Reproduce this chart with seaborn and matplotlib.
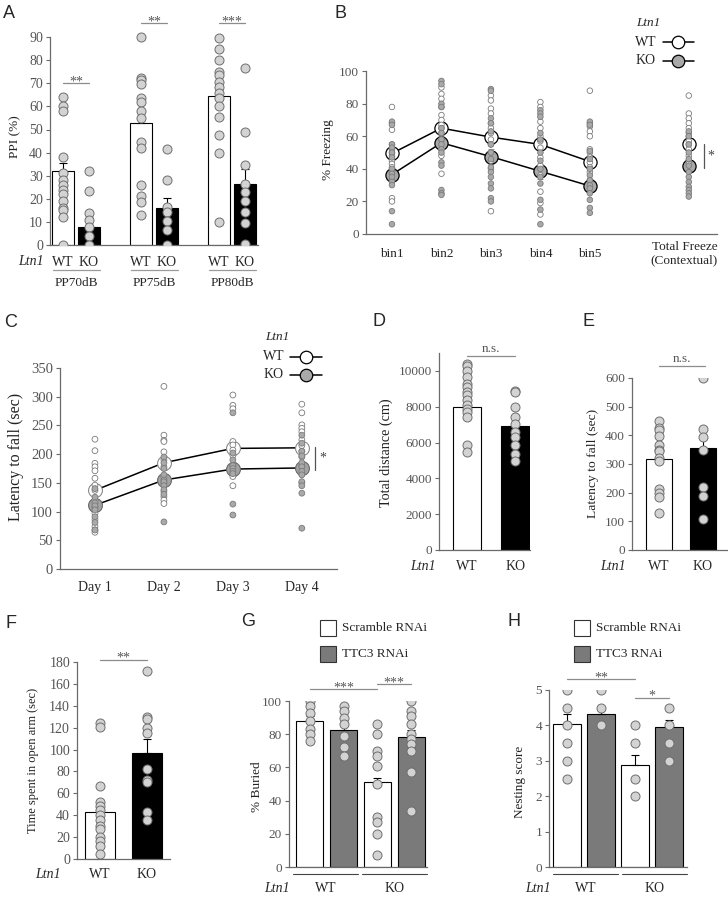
import numpy as np
import pandas as pd
import matplotlib
matplotlib.use("Agg")
import matplotlib.pyplot as plt
from matplotlib.lines import Line2D
from matplotlib.patches import Rectangle
from matplotlib.transforms import blended_transform_factory
import seaborn as sns

# ======================= DATA =======================
# --- A: PPI ---
a_groups = ["PP70dB", "PP75dB", "PP80dB"]
a_wt_mean = [32, 53, 64.5]
a_wt_sem = [3.5, 4.5, 4.5]
a_ko_mean = [8, 16, 26.5]
a_ko_sem = [3.5, 4.5, 6.5]
a_wt_70 = [64, 60, 58, 38, 31, 28, 26, 24, 22, 19, 16, 15, 12, 0]
a_ko_70 = [32, 23.5, 14, 11, 8, 4, 0]
a_wt_75 = [90, 72.5, 71.5, 69.5, 63.5, 62, 58, 55, 44.5, 42, 26, 21, 18.5, 13]
a_ko_75 = [41.5, 28, 16.5, 14.5, 10.5, 6.5, 0]
a_wt_80 = [89.5, 85, 80, 75, 73.5, 70.5, 68.5, 66, 63.5, 60, 55.5, 47.5, 40, 10]
a_ko_80 = [76.5, 49, 34.5, 26.5, 23, 19, 14.5, 9.5, 0.5]

# --- B: freezing ---
b_bins = ["bin1", "bin2", "bin3", "bin4", "bin5", "Total"]
b_wt_mean = [49.5, 65, 59.5, 55, 44.5, 55]
b_ko_mean = [36.5, 56, 47.5, 38.5, 29.5, 42]
b_wt_sem = [4, 4, 4.5, 4.5, 4, 3.5]
b_ko_sem = [4, 4, 4.5, 4.5, 4, 3.5]
b_wt_pts = {
    "bin1": [78, 68, 64, 55, 52, 50, 48, 45, 43, 41, 38, 33, 22, 20],
    "bin2": [90, 86, 83, 78, 73, 70, 67, 65, 62, 58, 52, 48, 37],
    "bin3": [85, 82, 77, 74, 68, 65, 62, 58, 55, 50, 45, 40, 14],
    "bin4": [81, 78, 69, 65, 60, 57, 53, 47, 42, 36, 26, 19, 12],
    "bin5": [88, 68, 66, 63, 60, 52, 50, 47, 44, 41, 38, 33],
    "Total": [85, 74, 71, 68, 65, 62, 60, 57, 55, 52, 48, 45, 43],
}
b_ko_pts = {
    "bin1": [69, 67, 55, 53, 50, 47, 40, 37, 35, 32, 30, 14, 6],
    "bin2": [94, 92, 80, 78, 65, 62, 58, 55, 52, 50, 44, 42, 27, 25, 24],
    "bin3": [89, 88, 71, 68, 63, 55, 50, 46, 41, 38, 35, 31, 28, 22, 20],
    "bin4": [76, 74, 72, 62, 58, 50, 45, 40, 35, 31, 21, 15, 6],
    "bin5": [69, 67, 51, 46, 40, 36, 33, 30, 28, 25, 21, 16, 13],
    "Total": [63, 60, 55, 50, 46, 42, 38, 35, 32, 29, 27, 25, 23],
}

# --- C: rotarod ---
c_days = ["Day 1", "Day 2", "Day 3", "Day 4"]
c_wt_mean = [137, 185, 210, 211]
c_ko_mean = [111, 155, 174, 176]
c_wt_sem = [10, 12, 11, 10]
c_ko_sem = [8, 9, 12, 10]
c_wt_pts = {
    "Day 1": [226, 206, 184, 178, 171, 158, 146, 137, 120, 108, 97, 86, 74, 68, 64],
    "Day 2": [318, 233, 224, 222, 204, 190, 178, 160, 150, 135, 126, 120, 114],
    "Day 3": [303, 285, 279, 222, 216, 207, 198, 180, 161, 145],
    "Day 4": [287, 272, 251, 245, 239, 225, 215, 205, 195, 180, 165, 150],
}
c_ko_pts = {
    "Day 1": [140, 125, 115, 110, 103, 91, 81, 68],
    "Day 2": [195, 185, 175, 164, 155, 152, 145, 138, 130, 82],
    "Day 3": [272, 202, 190, 180, 175, 170, 166, 113, 94],
    "Day 4": [233, 219, 205, 197, 185, 178, 170, 164, 152, 145, 132, 71],
}

# --- D: open field ---
genos = ["WT", "KO"]
d_mean = [8000, 6900]
d_sem = [350, 450]
d_wt = [10400, 10250, 10000, 9650, 9250, 9100, 8850, 8650, 8400, 8100, 7900, 7700, 7400, 5850, 5500]
d_ko = [8900, 8800, 8000, 7450, 7050, 6600, 6300, 5850, 5350, 4950]

# --- E: latency to fall ---
e_mean = [317, 355]
e_sem = [30, 45]
e_wt = [449, 425, 417, 399, 367, 350, 344, 320, 309, 212, 200, 186, 128]
e_ko = [600, 423, 394, 350, 221, 189, 107]

# --- F: elevated plus maze ---
f_mean = [42.5, 96.5]
f_sem = [9, 13.5]
f_wt = [124, 121, 67, 52, 48, 45, 40, 36, 30, 27, 20, 16, 12, 5]
f_ko = [172, 130, 128, 120, 115, 82, 72, 70, 43, 36]

# --- G / H: RNAi ---
gh_cats = ["WT Scr", "WT TTC3", "KO Scr", "KO TTC3"]
gh_rnai = ["Scramble RNAi", "TTC3 RNAi", "Scramble RNAi", "TTC3 RNAi"]
g_mean = [88, 82.5, 51.5, 78.5]
g_sem = [3, 5, 2, 4]
g_pts = {
    "WT Scr": [100, 97, 93, 88, 83, 80, 76],
    "WT TTC3": [97, 94, 90, 86, 79, 72, 67],
    "KO Scr": [86, 80, 70, 67, 61, 50, 30, 27, 20, 7],
    "KO TTC3": [100, 94, 91, 86, 80, 77, 74, 70, 57, 34],
}
h_mean = [4.05, 4.33, 2.88, 3.95]
h_sem = [0.26, 0.2, 0.29, 0.2]
h_pts = {
    "WT Scr": [5, 4.5, 4, 3.5, 3, 2.5],
    "WT TTC3": [5, 4.5, 4],
    "KO Scr": [4, 3.5, 2.5, 2],
    "KO TTC3": [4.5, 4, 3.5, 3],
}

# ======================= STYLE =======================
W, H = 728, 898
sns.set_theme(style="ticks")
plt.rcParams["font.family"] = ["Liberation Serif", "DejaVu Serif"]
plt.rcParams["axes.linewidth"] = 0.9

TICK_C = "#555555"
SPINE_C = "#6a6a6a"
PT_FACE = "#d3d3d3"
PT_EDGE = "#6e6e6e"
KO_SMALL = "#a9a9a9"
TTC_C = "#7a7a7a"
SIG_C = "#8c8c8c"
LETTER_FONT = ["Liberation Sans", "DejaVu Sans"]

fig = plt.figure(figsize=(W / 100, H / 100), dpi=100)
fig.patch.set_facecolor("white")

RECTS = {}


def add_ax(name, l, t, r, b):
    ax = fig.add_axes([l / W, 1 - b / H, (r - l) / W, (b - t) / H])
    RECTS[name] = (l, t, r, b)
    ax.set_facecolor("none")
    return ax


def ftext(px, py, s, **kw):
    kw.setdefault("ha", "center")
    kw.setdefault("va", "center")
    kw.setdefault("fontsize", 9.5)
    return fig.text(px / W, 1 - py / H, s, **kw)


def ay(name, py):
    l, t, r, b = RECTS[name]
    return (b - py) / (b - t)


def axf(name, px):
    l, t, r, b = RECTS[name]
    return (px - l) / (r - l)


def xtext(ax, name, xd, py, s, **kw):
    kw.setdefault("ha", "center")
    kw.setdefault("va", "center")
    kw.setdefault("fontsize", 9.5)
    tr = blended_transform_factory(ax.transData, ax.transAxes)
    ax.text(xd, ay(name, py), s, transform=tr, clip_on=False, **kw)


def xline(ax, name, x0, x1, py, color="#555555", lw=0.9):
    tr = blended_transform_factory(ax.transData, ax.transAxes)
    ax.plot([x0, x1], [ay(name, py)] * 2, transform=tr, color=color, lw=lw, clip_on=False)


def style(ax, name, ylab, lab_px, yticks, ybounds=None, tsize=9.5, lsize=9.5):
    sns.despine(ax=ax)
    for s in ["left", "bottom"]:
        ax.spines[s].set_color(SPINE_C)
        ax.spines[s].set_linewidth(0.9)
    ax.set_yticks(yticks)
    ax.tick_params(axis="y", colors=SPINE_C, labelcolor=TICK_C, labelsize=tsize,
                   length=3, width=0.8, pad=2)
    ax.set_xticks([])
    if ybounds is not None:
        ax.spines["left"].set_bounds(*ybounds)
    ax.set_xlabel("")
    ax.set_ylabel(ylab, fontsize=lsize, color="#222222")
    ax.yaxis.set_label_coords(axf(name, lab_px[0] + 0.45 * lsize * 1.39), ay(name, lab_px[1]))


def sig(ax, x0, x1, y, label, off, fs=10):
    ax.plot([x0, x1], [y, y], color=SIG_C, lw=0.9, clip_on=False)
    ax.annotate(label, xy=((x0 + x1) / 2, y), xytext=(0, off), textcoords="offset points",
                ha="center", va="baseline", fontsize=fs, color="#555555",
                annotation_clip=False)


def long_df(pairs, cols):
    rows = []
    for keys, vals in pairs:
        for v in vals:
            rows.append((*keys, v))
    return pd.DataFrame(rows, columns=cols)


def upper_err(ax, xs, means, sems, color="black"):
    ax.errorbar(xs, means, yerr=[np.zeros(len(sems)), sems], fmt="none",
                ecolor=color, elinewidth=0.8, capsize=3, capthick=0.8, zorder=2.5)


# ======================= PANEL A =======================
axA = add_ax("A", 50, 14, 258, 245)
orderA = []
for i, g in enumerate(a_groups):
    orderA += [f"{g} WT", f"{g} KO"]
    if i < len(a_groups) - 1:
        orderA.append(" " * (i + 1))
barA = pd.DataFrame({
    "cat": [f"{g} {k}" for g in a_groups for k in genos],
    "geno": genos * 3,
    "val": [v for p in zip(a_wt_mean, a_ko_mean) for v in p],
    "sem": [v for p in zip(a_wt_sem, a_ko_sem) for v in p],
})
ptsA = long_df([(("PP70dB WT",), a_wt_70), (("PP70dB KO",), a_ko_70),
                (("PP75dB WT",), a_wt_75), (("PP75dB KO",), a_ko_75),
                (("PP80dB WT",), a_wt_80), (("PP80dB KO",), a_ko_80)], ["cat", "val"])
sns.barplot(data=barA, x="cat", y="val", hue="geno", order=orderA, hue_order=genos,
            palette={"WT": "white", "KO": "black"}, dodge=False, width=0.85,
            edgecolor="black", linewidth=0.8, errorbar=None, legend=False, ax=axA)
xsA = [orderA.index(c) for c in barA["cat"]]
upper_err(axA, xsA, barA["val"].values, barA["sem"].values)
sns.stripplot(data=ptsA, x="cat", y="val", order=orderA, jitter=False, color=PT_FACE,
              edgecolor=PT_EDGE, linewidth=0.7, size=6.5, zorder=3, ax=axA)
axA.set_xlim(-0.5, len(orderA) - 0.5)
axA.set_ylim(0, 100)
style(axA, "A", "PPI (%)", (15, 137), np.arange(0, 91, 10), (0, 90), tsize=10, lsize=9.5)
for i, g in enumerate(a_groups):
    x0 = orderA.index(f"{g} WT")
    x1 = orderA.index(f"{g} KO")
    xtext(axA, "A", x0, 262, "WT", fontsize=10)
    xtext(axA, "A", x1, 262, "KO", fontsize=10)
    xline(axA, "A", x0 - 0.38, x1 + 0.42, 270, color="#9a9a9a")
    xtext(axA, "A", (x0 + x1) / 2, 283, g)
sig(axA, 0, 1, 70, "**", -1.5)
sig(axA, 3, 4, 96, "**", -1.5)
sig(axA, 6, 7, 96, "***", -1.5)
ftext(31, 262, "Ltn1", style="italic", fontsize=10)

# ======================= PANEL B =======================
axB = add_ax("B", 366, 63, 717, 234)
orderB = b_bins[:5] + [" ", "Total"]
meansB = pd.DataFrame({"bin": b_bins * 2, "geno": ["WT"] * 6 + ["KO"] * 6,
                       "val": b_wt_mean + b_ko_mean, "sem": b_wt_sem + b_ko_sem})
xsB = [orderB.index(b) for b in meansB["bin"]]
axB.errorbar(xsB, meansB["val"], yerr=meansB["sem"], fmt="none", ecolor="#9a9a9a",
             elinewidth=0.8, capsize=2.5, capthick=0.8, zorder=1.5)
for geno, face in (("WT", "white"), ("KO", "#a9a9a9")):
    sub = meansB[meansB["geno"] == geno]
    sns.pointplot(data=sub[sub["bin"] != "Total"], x="bin", y="val", order=orderB,
                  color="black", markerfacecolor=face, markeredgecolor="black",
                  markersize=9.5, markeredgewidth=0.9, linewidth=1.1, errorbar=None,
                  zorder=2, ax=axB)
    sns.pointplot(data=sub[sub["bin"] == "Total"], x="bin", y="val", order=orderB,
                  color="black", linestyle="none", markerfacecolor=face,
                  markeredgecolor="black", markersize=9.5, markeredgewidth=0.9,
                  errorbar=None, zorder=2, ax=axB)
ptsB = long_df([((b, "WT"), b_wt_pts[b]) for b in b_bins] +
               [((b, "KO"), b_ko_pts[b]) for b in b_bins], ["bin", "geno", "val"])
sns.stripplot(data=ptsB, x="bin", y="val", hue="geno", order=orderB, hue_order=genos,
              palette={"WT": "white", "KO": KO_SMALL}, jitter=False, dodge=False,
              size=4, edgecolor="#7a7a7a", linewidth=0.6, legend=False, zorder=3, ax=axB)
axB.set_xlim(-0.525, 6.57)
axB.set_ylim(0, 105)
style(axB, "B", "% Freezing", (328, 150), np.arange(0, 101, 20), (0, 100), tsize=9.5, lsize=9.5)
for b in b_bins[:5]:
    xtext(axB, "B", orderB.index(b), 254, b)
xtext(axB, "B", orderB.index("Total") - 0.09, 254, "Total Freeze\n(Contextual)", linespacing=1.15)
axB.plot([6.3, 6.3], [55.5, 40.5], color="#555555", lw=0.9, clip_on=False)
axB.text(6.45, 48, "*", ha="center", va="center", fontsize=10, color="#444444")
# legend
ftext(648, 23, "Ltn1", style="italic", fontsize=9.5)
for py, lab, face in ((42, "WT", "white"), (61, "KO", "#a9a9a9")):
    ftext(646, py, lab, fontsize=10)
    fig.add_artist(Line2D([663 / W, 678 / W, 694 / W], [1 - py / H] * 3,
                          transform=fig.transFigure, color="black", lw=1.1,
                          marker="o", markevery=[1], ms=9, mfc=face, mec="black", mew=0.9))

# ======================= PANEL C =======================
axC = add_ax("C", 60, 368, 337, 569)
meansC = pd.DataFrame({"day": c_days * 2, "geno": ["WT"] * 4 + ["KO"] * 4,
                       "val": c_wt_mean + c_ko_mean, "sem": c_wt_sem + c_ko_sem})
xsC = [c_days.index(d) for d in meansC["day"]]
axC.errorbar(xsC, meansC["val"], yerr=meansC["sem"], fmt="none", ecolor="#9a9a9a",
             elinewidth=0.8, capsize=2.5, capthick=0.8, zorder=1.5)
for geno, face, edge in (("WT", "white", "#8a8a8a"), ("KO", "#a3a3a3", "#6a6a6a")):
    sub = meansC[meansC["geno"] == geno]
    sns.pointplot(data=sub, x="day", y="val", order=c_days, color="black",
                  markerfacecolor=face, markeredgecolor=edge, markersize=10,
                  markeredgewidth=0.8, linewidth=1.1, errorbar=None, zorder=2, ax=axC)
ptsC = long_df([((d, "WT"), c_wt_pts[d]) for d in c_days] +
               [((d, "KO"), c_ko_pts[d]) for d in c_days], ["day", "geno", "val"])
sns.stripplot(data=ptsC, x="day", y="val", hue="geno", order=c_days, hue_order=genos,
              palette={"WT": "white", "KO": KO_SMALL}, jitter=False, dodge=False,
              size=4.2, edgecolor="#7a7a7a", linewidth=0.6, legend=False, zorder=3, ax=axC)
axC.set_xlim(-0.507, 3.51)
axC.set_ylim(0, 350)
style(axC, "C", "Latency to fall (sec)", (17, 457), np.arange(0, 351, 50), (0, 350),
      tsize=10.5, lsize=11.5)
for d in c_days:
    xtext(axC, "C", c_days.index(d), 588, d, fontsize=10)
axC.plot([3.19, 3.19], [212, 172], color="#555555", lw=0.9, clip_on=False)
axC.text(3.3, 193, "*", ha="center", va="center", fontsize=10, color="#444444")
ftext(277, 337, "Ltn1", style="italic", fontsize=9.5)
for py, lab, face in ((357, "WT", "white"), (375, "KO", "#a9a9a9")):
    ftext(274, py, lab, fontsize=10)
    fig.add_artist(Line2D([290 / W, 306 / W, 322 / W], [1 - py / H] * 3,
                          transform=fig.transFigure, color="black", lw=1.1,
                          marker="o", markevery=[1], ms=9, mfc=face, mec="black", mew=0.9))


# ======================= PANELS D, E, F =======================
def two_bar(name, rect, means, sems, wt, ko, width, xlim, ylim, yticks, ybounds,
            ylab, lab_px, label_py, ltn_px, tsize, lsize, ptsize=6.5):
    ax = add_ax(name, *rect)
    bars = pd.DataFrame({"geno": genos, "val": means, "sem": sems})
    sns.barplot(data=bars, x="geno", y="val", hue="geno", order=genos, hue_order=genos,
                palette={"WT": "white", "KO": "black"}, dodge=False, width=width,
                edgecolor="black", linewidth=0.8, errorbar=None, legend=False, ax=ax)
    upper_err(ax, [genos.index(g) for g in bars["geno"]], bars["val"].values, bars["sem"].values)
    pts = long_df([(("WT",), wt), (("KO",), ko)], ["geno", "val"])
    sns.stripplot(data=pts, x="geno", y="val", order=genos, jitter=False, color=PT_FACE,
                  edgecolor=PT_EDGE, linewidth=0.7, size=ptsize, zorder=3, ax=ax)
    ax.set_xlim(*xlim)
    ax.set_ylim(*ylim)
    style(ax, name, ylab, lab_px, yticks, ybounds, tsize=tsize, lsize=lsize)
    for i, g in enumerate(genos):
        xtext(ax, name, i, label_py, g, fontsize=10)
    ftext(ltn_px[0], ltn_px[1], "Ltn1", style="italic", fontsize=10)
    return ax


axD = two_bar("D", (439, 353, 530, 550), d_mean, d_sem, d_wt, d_ko, 0.58,
              (-0.583, 1.31), (0, 11000), np.arange(0, 10001, 2000), (0, 11000),
              "Total distance (cm)", (387, 453), 567, (423, 567), 9.5, 10.2)
sig(axD, 0, 1, 10840, "n.s.", 2.5, fs=9.5)

axE = two_bar("E", (632, 378, 727, 550), e_mean, e_sem, e_wt, e_ko, 0.57,
              (-0.614, 1.545), (0, 600), np.arange(0, 601, 100), (0, 600),
              "Latency to fall (sec)", (593, 463), 567, (613, 567), 9.5, 9.7)
sig(axE, 0, 1.05, 642, "n.s.", 2.5, fs=9.5)

axF = two_bar("F", (77, 662, 170, 859), f_mean, f_sem, f_wt, f_ko, 0.62,
              (-0.49, 1.49), (0, 180), np.arange(0, 181, 20), (0, 180),
              "Time spent in open arm (sec)", (33, 760), 875, (48, 875), 10, 9)
sig(axF, 0, 1, 182, "**", -1.5)


# ======================= PANELS G, H =======================
def rnai_panel(name, rect, means, sems, pts, xlim, ylim, yticks, ylab, lab_px,
               wt_line, ko_line, ltn_px):
    ax = add_ax(name, *rect)
    bars = pd.DataFrame({"cat": gh_cats, "rnai": gh_rnai, "val": means, "sem": sems})
    sns.barplot(data=bars, x="cat", y="val", hue="rnai", order=gh_cats,
                hue_order=["Scramble RNAi", "TTC3 RNAi"],
                palette={"Scramble RNAi": "white", "TTC3 RNAi": TTC_C}, dodge=False,
                width=0.8, edgecolor="black", linewidth=0.8, errorbar=None,
                legend=False, ax=ax)
    upper_err(ax, [gh_cats.index(c) for c in bars["cat"]], bars["val"].values, bars["sem"].values)
    pdf = long_df([((c,), pts[c]) for c in gh_cats], ["cat", "val"])
    sns.stripplot(data=pdf, x="cat", y="val", order=gh_cats, jitter=False, color=PT_FACE,
                  edgecolor=PT_EDGE, linewidth=0.7, size=6.5, zorder=3, ax=ax)
    ax.set_xlim(*xlim)
    ax.set_ylim(*ylim)
    style(ax, name, ylab, lab_px, yticks, ylim, tsize=9.5, lsize=9.5)
    for (x0, x1), lab in ((wt_line, "WT"), (ko_line, "KO")):
        xline(ax, name, x0, x1, 874, color="#444444", lw=0.8)
        xtext(ax, name, (x0 + x1) / 2, 888, lab, fontsize=10)
    ftext(ltn_px[0], ltn_px[1], "Ltn1", style="italic", fontsize=10)
    return ax


axG = rnai_panel("G", (289, 701, 427, 867), g_mean, g_sem, g_pts, (-0.62, 3.47), (0, 100),
                 np.arange(0, 101, 20), "% Buried", (257, 787), (-0.5, 1.42), (1.54, 3.47),
                 (277, 888))
sig(axG, 0, 2, 107, "***", -1.5)
sig(axG, 2, 3, 110, "***", -1.5)

axH = rnai_panel("H", (549, 690, 687, 867), h_mean, h_sem, h_pts, (-0.53, 3.53), (0, 5),
                 np.arange(0, 6, 1), "Nesting score", (520, 782), (-0.41, 1.5), (1.62, 3.53),
                 (538, 888))
sig(axH, 0, 2, 5.3, "**", -1.5)
sig(axH, 2, 3, 4.78, "*", -1.5)

# legends G / H
for sx in (320, 574):
    for py, face, lab in ((628, "white", "Scramble RNAi"), (654, TTC_C, "TTC3 RNAi")):
        fig.add_artist(Rectangle((sx / W, 1 - (py + 8) / H), 16 / W, 16 / H,
                                 transform=fig.transFigure, facecolor=face,
                                 edgecolor="#333333", linewidth=0.8))
        ftext(sx + 22, py, lab, ha="left", fontsize=9.5)

# ======================= PANEL LETTERS =======================
for lab, px, py in (("A", 9, 13), ("B", 341, 13), ("C", 11, 322), ("D", 379, 321),
                    ("E", 588, 321), ("F", 11, 623), ("G", 248, 622), ("H", 514, 622)):
    ftext(px, py, lab, fontsize=13, family=LETTER_FONT)

fig.savefig("out.png", dpi=100, facecolor="white")
